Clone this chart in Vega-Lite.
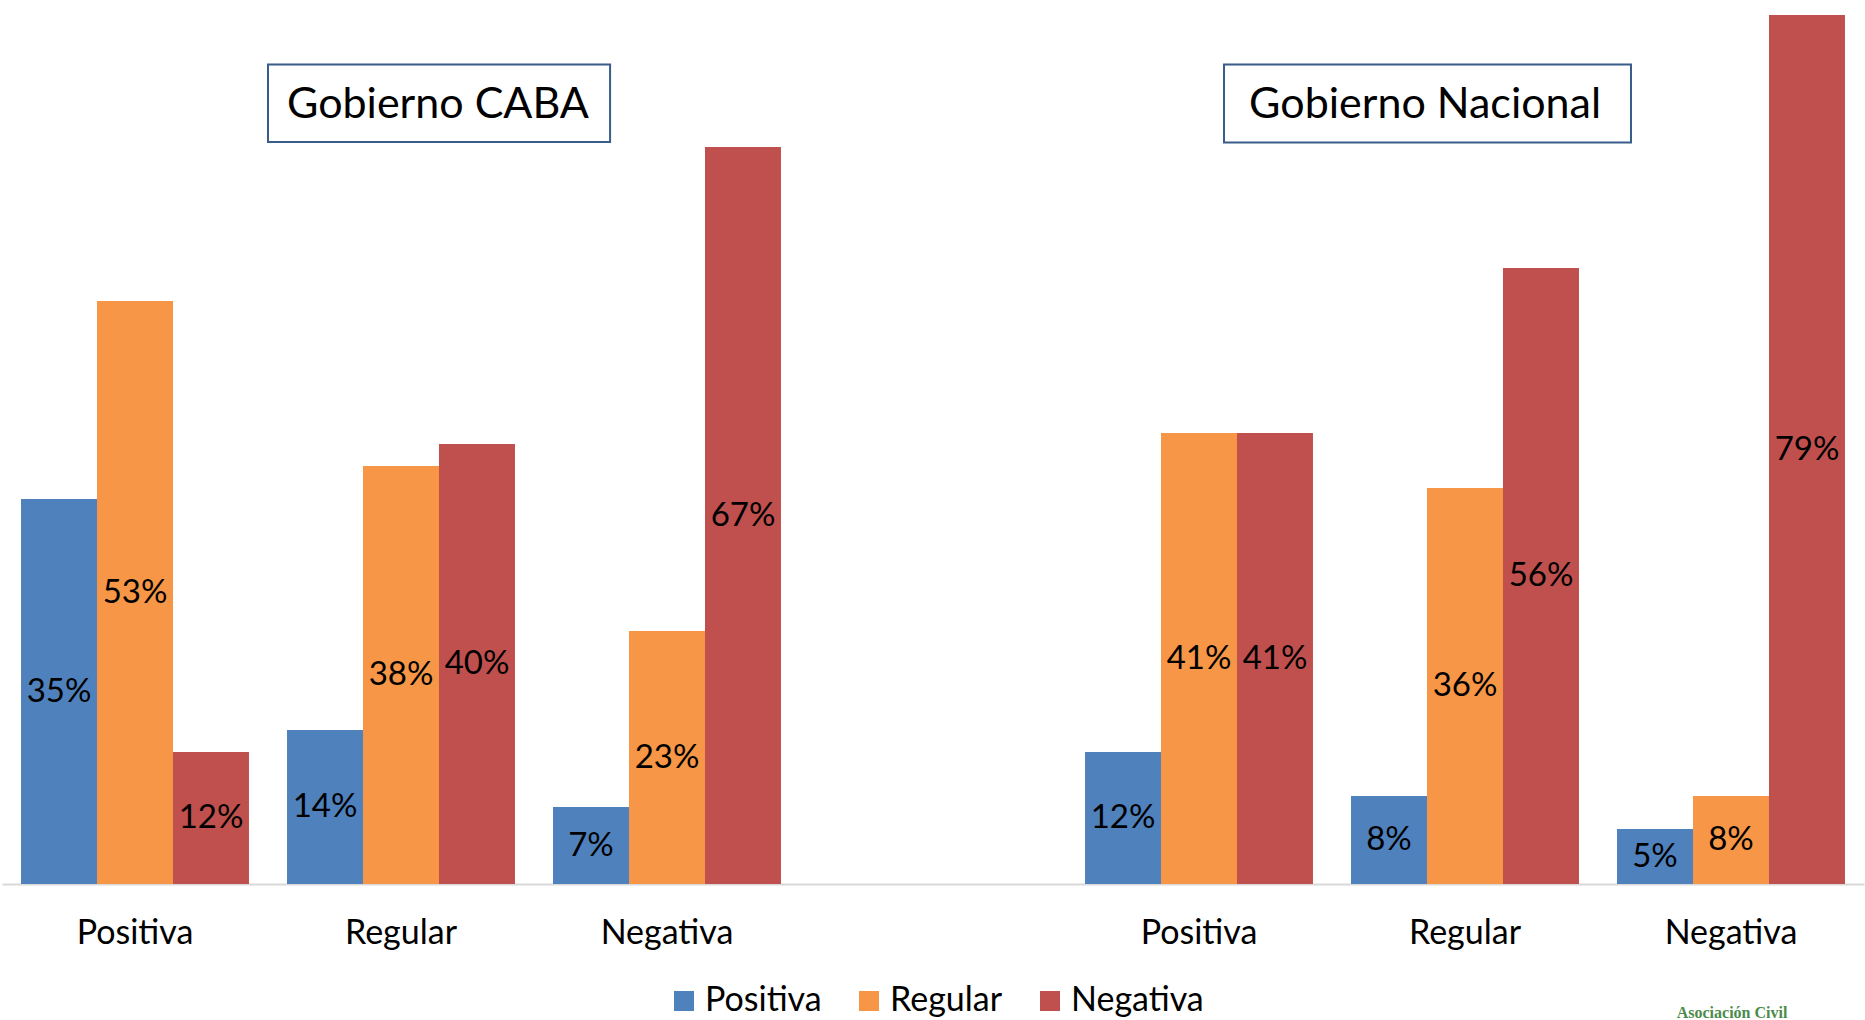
{
  "$schema": "https://vega.github.io/schema/vega-lite/v6.json",
  "width": 1862,
  "height": 880,
  "autosize": {"type": "none"},
  "padding": {"left": 2, "top": 4, "right": 1, "bottom": 136},
  "background": "white",
  "config": {"view": {"stroke": null}, "font": "Lato"},
  "layer": [
    {
      "data": {
        "values": [
          {"cat": "CABA|Positiva", "serie": "Positiva", "value": 0.35},
          {"cat": "CABA|Positiva", "serie": "Regular", "value": 0.53},
          {"cat": "CABA|Positiva", "serie": "Negativa", "value": 0.12},
          {"cat": "CABA|Regular", "serie": "Positiva", "value": 0.14},
          {"cat": "CABA|Regular", "serie": "Regular", "value": 0.38},
          {"cat": "CABA|Regular", "serie": "Negativa", "value": 0.40},
          {"cat": "CABA|Negativa", "serie": "Positiva", "value": 0.07},
          {"cat": "CABA|Negativa", "serie": "Regular", "value": 0.23},
          {"cat": "CABA|Negativa", "serie": "Negativa", "value": 0.67},
          {"cat": "NAC|Positiva", "serie": "Positiva", "value": 0.12},
          {"cat": "NAC|Positiva", "serie": "Regular", "value": 0.41},
          {"cat": "NAC|Positiva", "serie": "Negativa", "value": 0.41},
          {"cat": "NAC|Regular", "serie": "Positiva", "value": 0.08},
          {"cat": "NAC|Regular", "serie": "Regular", "value": 0.36},
          {"cat": "NAC|Regular", "serie": "Negativa", "value": 0.56},
          {"cat": "NAC|Negativa", "serie": "Positiva", "value": 0.05},
          {"cat": "NAC|Negativa", "serie": "Regular", "value": 0.08},
          {"cat": "NAC|Negativa", "serie": "Negativa", "value": 0.79}
        ]
      },
      "transform": [{"calculate": "datum.value/2", "as": "mid"}],
      "encoding": {
        "x": {
          "field": "cat",
          "type": "nominal",
          "sort": null,
          "scale": {
            "domain": ["CABA|Positiva", "CABA|Regular", "CABA|Negativa", "gap|", "NAC|Positiva", "NAC|Regular", "NAC|Negativa"],
            "paddingInner": 0.143,
            "paddingOuter": 0.0715
          },
          "axis": {
            "title": null,
            "labelExpr": "split(datum.value, '|')[1]",
            "labelFontSize": 34,
            "labelFont": "Lato",
            "labelColor": "black",
            "labelAngle": 0,
            "ticks": false,
            "tickSize": 0,
            "labelPadding": 32,
            "domainColor": "#d9d9d9",
            "domainWidth": 2,
            "grid": false
          }
        },
        "xOffset": {
          "field": "serie",
          "type": "nominal",
          "sort": null,
          "scale": {"domain": ["Positiva", "Regular", "Negativa"], "paddingInner": 0, "paddingOuter": 0}
        }
      },
      "layer": [
        {
          "mark": {"type": "bar"},
          "encoding": {
            "y": {
              "field": "value",
              "type": "quantitative",
              "scale": {"domain": [0, 0.8], "nice": false, "zero": true},
              "axis": null
            },
            "color": {
              "field": "serie",
              "type": "nominal",
              "sort": null,
              "scale": {"domain": ["Positiva", "Regular", "Negativa"], "range": ["#4F81BD", "#F79646", "#C0504D"]},
              "legend": {
                "title": null,
                "orient": "none",
                "legendX": 665,
                "legendY": 980,
                "direction": "horizontal",
                "symbolType": "square",
                "symbolSize": 400,
                "symbolStrokeWidth": 0,
                "labelFontSize": 34,
                "labelFont": "Lato",
                "labelColor": "black",
                "columnPadding": 30,
                "labelOffset": 4,
                "padding": 0,
                "labelLimit": 0
              }
            }
          }
        },
        {
          "mark": {"type": "text", "fontSize": 33, "font": "Lato", "color": "black", "align": "center", "baseline": "middle"},
          "encoding": {
            "y": {"field": "mid", "type": "quantitative"},
            "text": {"field": "value", "type": "quantitative", "format": ".0%"}
          }
        }
      ]
    },
    {
      "data": {
        "values": [
          {"t": "Gobierno CABA", "x1": 1.0, "x2": 2.286, "y1": 0.6745, "y2": 0.745, "xc": 1.639, "yc": 0.708},
          {"t": "Gobierno Nacional", "x1": 4.594, "x2": 6.124, "y1": 0.674, "y2": 0.745, "xc": 5.35, "yc": 0.708}
        ]
      },
      "layer": [
        {
          "mark": {"type": "rect", "fill": "white", "stroke": "#385D8A", "strokeWidth": 2},
          "encoding": {
            "x": {"field": "x1", "type": "quantitative", "scale": {"domain": [0, 7], "nice": false, "zero": false}, "axis": null},
            "x2": {"field": "x2"},
            "y": {"field": "y1", "type": "quantitative"},
            "y2": {"field": "y2"}
          }
        },
        {
          "mark": {"type": "text", "fontSize": 43, "font": "Lato", "color": "black", "align": "center", "baseline": "middle"},
          "encoding": {
            "x": {"field": "xc", "type": "quantitative"},
            "y": {"field": "yc", "type": "quantitative"},
            "text": {"field": "t"}
          }
        }
      ]
    },
    {
      "data": {"values": [{"t": "Asociación Civil", "xc": 6.504, "yc": -0.1218}]},
      "mark": {"type": "text", "fontSize": 16, "font": "Liberation Serif", "fontWeight": "bold", "color": "#4B8B4B", "align": "center", "baseline": "alphabetic"},
      "encoding": {
        "x": {"field": "xc", "type": "quantitative", "scale": {"domain": [0, 7], "nice": false, "zero": false}, "axis": null},
        "y": {"field": "yc", "type": "quantitative"},
        "text": {"field": "t"}
      }
    }
  ],
  "resolve": {"scale": {"x": "independent"}}
}
